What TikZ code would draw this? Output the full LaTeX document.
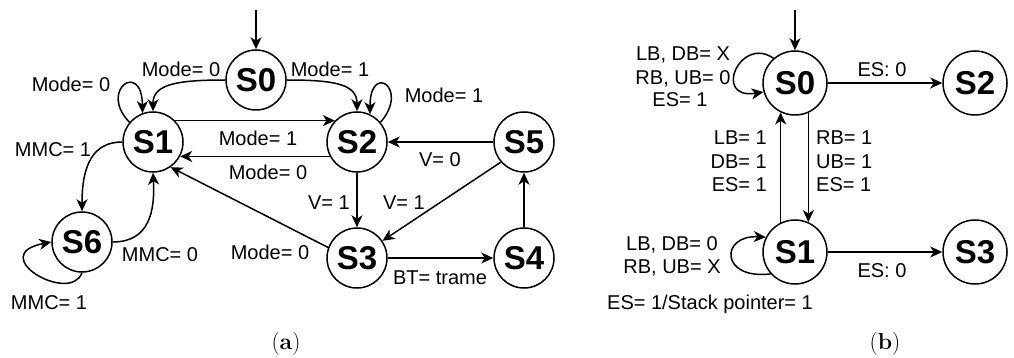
\documentclass[tikz,border=0pt]{standalone}
\usepackage{fontspec}
\newfontfamily\lib{Liberation Sans}
\usetikzlibrary{arrows.meta}
\tikzset{
  st/.style={circle, draw, line width=1.5pt, minimum size=60pt, inner sep=0pt, font=\lib\fontsize{33}{33}\selectfont\bfseries},
  stb/.style={st, minimum size=64pt},
  lbl/.style={font=\lib\fontsize{20}{23}\selectfont, inner sep=0pt, anchor=base},
  lblw/.style={lbl, anchor=base west},
  lble/.style={lbl, anchor=base east},
  captxt/.style={font=\fontsize{23}{23}\selectfont, inner sep=0pt},
  edge/.style={line width=1.5pt, -{Stealth[length=12pt,width=11pt,inset=3.5pt]}},
}
\begin{document}
\begin{tikzpicture}[x=1pt,y=-1pt]
\useasboundingbox (0,0) rectangle (1014,358);
% ---------- (a) ----------
\node[st] (a0) at (256,80) {S0};
\node[st] (a1) at (153,142) {S1};
\node[st] (a2) at (357,142) {S2};
\node[st] (a5) at (524,142) {S5};
\node[st] (a3) at (357,258) {S3};
\node[st] (a4) at (524,258) {S4};
\node[st] (a6) at (82,242) {S6};
\coordinate (ia) at (256,10);
\draw[edge] (ia) -- (a0);
\draw[edge] (a0.west) .. controls (178,80) and (153,84) .. (a1.north);
\draw[edge] (a0.east) .. controls (334,80) and (357,84) .. (a2.north);
\draw[edge] (a2.40) .. controls (410,88) and (370,62) .. (a2.65);
\draw[edge] (a1.140) .. controls (98,90) and (142,60) .. (a1.110);
\draw[edge] (a1.44) -- (a2.136);
\draw[edge] (a2.208) -- (a1.-28);
\draw[edge] (a1.west) .. controls (93,142) and (82,165) .. (a6.north);
\draw[edge] (a6.east) .. controls (150,242) and (155,210) .. (a1.south);
\draw[edge] (a6.south) .. controls (70,305) and (-15,255) .. (a6.west);
\draw[edge] (a3.160) -- (a1.-55);
\draw[edge] (a2) -- (a3);
\draw[edge] (a5.221) -- (a3.34);
\draw[edge] (a5) -- (a2);
\draw[edge] (a3) -- (a4);
\draw[edge] (a4) -- (a5);
\node[lbl] (la1) at (181,77) {Mode= 0};
\node[lbl] (la2) at (71,92) {Mode= 0};
\node[lbl] (la3) at (330,77) {Mode= 1};
\node[lbl] (la4) at (444,103) {Mode= 1};
\node[lbl] (la5) at (258,146) {Mode= 1};
\node[lbl] (la6) at (268,180) {Mode= 0};
\node[lbl] (la7) at (53,157) {MMC= 1};
\node[lbl] (la8) at (160,261) {MMC= 0};
\node[lbl] (la9) at (49,309) {MMC= 1};
\node[lbl] (la10) at (270,259) {Mode= 0};
\node[lbl] (la11) at (329,209) {V= 1};
\node[lbl] (la12) at (404,209) {V= 1};
\node[lbl] (la13) at (440,167) {V= 0};
\node[lbl] (la14) at (440,284) {BT= trame};
\node[captxt] (capa) at (286,344) {(\textbf{a})};
% ---------- (b) ----------
\node[stb] (b0) at (795,83) {S0};
\node[stb] (b2) at (975,83) {S2};
\node[stb] (b1) at (795,252) {S1};
\node[stb] (b3) at (975,252) {S3};
\coordinate (ib) at (795,10);
\draw[edge] (ib) -- (b0);
\draw[edge] (b0) -- (b2);
\draw[edge] (b1) -- (b3);
\draw[edge] (b0.-66) -- (b1.66);
\draw[edge] (b1.116) -- (b0.-116);
\draw[edge] (b0.131) .. controls (740,35) and (712,100) .. (b0.196);
\draw[edge] (b1.222) .. controls (720,280) and (720,235) .. (b1.153);
\node[lbl] (lb1) at (683,61) {LB, DB= X};
\node[lbl] (lb2) at (683,85) {RB, UB= 0};
\node[lbl] (lb3) at (680,107) {ES= 1};
\node[lblw] (lb4) at (816,145) {RB= 1};
\node[lblw] (lb5) at (816,169) {UB= 1};
\node[lblw] (lb6) at (816,192) {ES= 1};
\node[lble] (lb7) at (767,145) {LB= 1};
\node[lble] (lb8) at (767,169) {DB= 1};
\node[lble] (lb9) at (767,192) {ES= 1};
\node[lbl] (lb10) at (882,77) {ES: 0};
\node[lbl] (lb11) at (882,277) {ES: 0};
\node[lbl] (lb12) at (672,250) {LB, DB= 0};
\node[lbl] (lb13) at (672,273) {RB, UB= X};
\node[lbl] (lb14) at (710,309) {ES= 1/Stack pointer= 1};
\node[captxt] (capb) at (885,344) {(\textbf{b})};
\end{tikzpicture}
\end{document}
